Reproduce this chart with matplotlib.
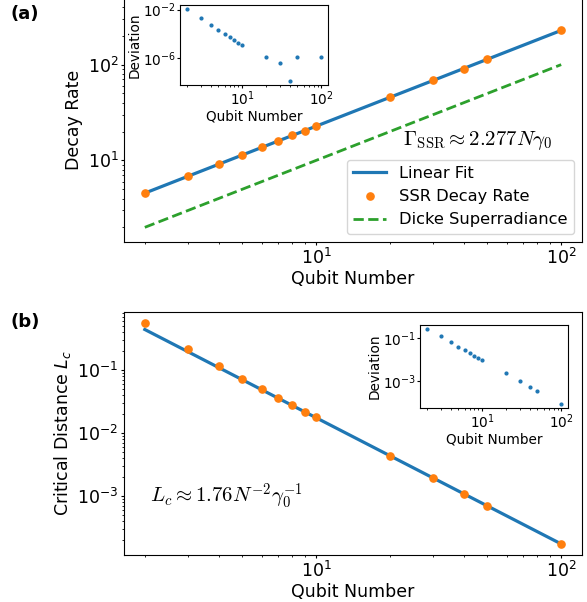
import matplotlib
matplotlib.use("Agg")
import matplotlib.pyplot as plt
from matplotlib.ticker import NullLocator, FixedLocator
import numpy as np

# ---------------- data ----------------
qubits = [2, 3, 4, 5, 6, 7, 8, 9, 10, 20, 30, 40, 50, 100]

ssr_rate = [4.61, 6.84, 9.11, 11.39, 13.66, 15.94, 18.22, 20.49, 22.77,
            45.54, 68.31, 91.08, 113.85, 227.7]
ssr_fit = [4.554, 6.831, 9.108, 11.385, 13.662, 15.939, 18.216, 20.493, 22.77,
           45.54, 68.31, 91.08, 113.85, 227.7]
dicke_rate = [2, 3, 4, 5, 6, 7, 8, 9, 10, 20, 30, 40, 50, 100]
ssr_dev = [1.2e-2, 1.9e-3, 5.4e-4, 1.95e-4, 9.8e-5, 5.2e-5, 3.1e-5, 2.0e-5, 1.2e-5,
           1.2e-6, 4.1e-7, 1.3e-8, 1.2e-6, 1.2e-6]

crit_dist = [0.557, 0.218, 0.1168, 0.0731, 0.0502, 0.0366, 0.0279, 0.0220, 0.01776,
             0.00441, 0.001957, 0.0011, 0.000704, 0.000176]
crit_fit = [0.44, 0.1956, 0.11, 0.0704, 0.04889, 0.03592, 0.0275, 0.02173, 0.0176,
            0.0044, 0.001956, 0.0011, 0.000704, 0.000176]
crit_dev = [0.265, 0.116, 0.0615, 0.038, 0.026, 0.020, 0.0148, 0.0118, 0.0091,
            0.0023, 0.00093, 0.00053, 0.00034, 0.000081]

dev_ticks_a = [1e-6, 1e-2]

FS = 12.5
IFS = 9.8
fig = plt.figure(figsize=(5.87, 6.02), dpi=100)


def style_main(ax):
    ax.tick_params(which='major', labelsize=FS, length=2.5, pad=1.5, width=0.8)
    ax.tick_params(which='minor', length=1.6, width=0.6)


def style_inset(ax):
    ax.tick_params(which='major', labelsize=IFS, length=2, pad=1, width=0.8)
    ax.tick_params(which='minor', length=1.2, width=0.6)


# ---------------- panel (a) ----------------
ax1 = fig.add_axes([124/587, 1 - 242/602, 458/587, 242/602 + 0.004])
ax1.plot(qubits, ssr_fit, color='tab:blue', lw=2.3, label='Linear Fit', zorder=2)
ax1.plot(qubits, ssr_rate, 'o', color='tab:orange', ms=5.2, label='SSR Decay Rate', zorder=3)
ax1.plot(qubits, dicke_rate, '--', color='tab:green', lw=2.0, label='Dicke Superradiance', zorder=2)
ax1.set_xscale('log')
ax1.set_yscale('log')
ax1.set_ylim(10**0.148, 10**2.70)
ax1.set_xlabel('Qubit Number', fontsize=FS, labelpad=1.5)
ax1.set_ylabel('Decay Rate', fontsize=FS, labelpad=3)
style_main(ax1)
ax1.legend(loc='lower right', fontsize=11.7)
ax1.text(22.7, 16.3, r'$\Gamma_{\rm SSR} \approx 2.277N\gamma_0$', fontsize=15,
         va='center', ha='left', math_fontfamily='cm')

ins1 = fig.add_axes([180/587, 1 - 85/602, 148/587, 80/602])
ins1.plot(qubits, ssr_dev, 'o', color='tab:blue', ms=2)
ins1.set_xscale('log')
ins1.set_yscale('log')
ins1.yaxis.set_major_locator(FixedLocator(dev_ticks_a))
ins1.yaxis.set_minor_locator(NullLocator())
ins1.set_xlabel('Qubit Number', fontsize=IFS, labelpad=1)
ins1.set_ylabel('Deviation', fontsize=IFS, labelpad=1)
style_inset(ins1)

# ---------------- panel (b) ----------------
ax2 = fig.add_axes([124/587, 1 - 555/602, 458/587, 243/602])
ax2.plot(qubits, crit_fit, color='tab:blue', lw=2.3, zorder=2)
ax2.plot(qubits, crit_dist, 'o', color='tab:orange', ms=5.2, zorder=3)
ax2.set_xscale('log')
ax2.set_yscale('log')
ax2.set_xlabel('Qubit Number', fontsize=FS, labelpad=1.5)
ax2.set_ylabel('Critical Distance $L_c$', fontsize=FS, labelpad=3)
style_main(ax2)
ax2.text(2.1, 1.0e-3, r'$L_c \approx 1.76N^{-2}\gamma_0^{-1}$', fontsize=15,
         va='center', ha='left', math_fontfamily='cm')

ins2 = fig.add_axes([420/587, 1 - 408/602, 148/587, 83/602])
ins2.plot(qubits, crit_dev, 'o', color='tab:blue', ms=2)
ins2.set_xscale('log')
ins2.set_yscale('log')
ins2.set_xlabel('Qubit Number', fontsize=IFS, labelpad=1)
ins2.set_ylabel('Deviation', fontsize=IFS, labelpad=1)
style_inset(ins2)

fig.text(10/587, 1 - 14/602, '(a)', fontsize=13, fontweight='bold', va='center', ha='left')
fig.text(10/587, 1 - 322/602, '(b)', fontsize=13, fontweight='bold', va='center', ha='left')

fig.savefig('out.png', dpi=100)
